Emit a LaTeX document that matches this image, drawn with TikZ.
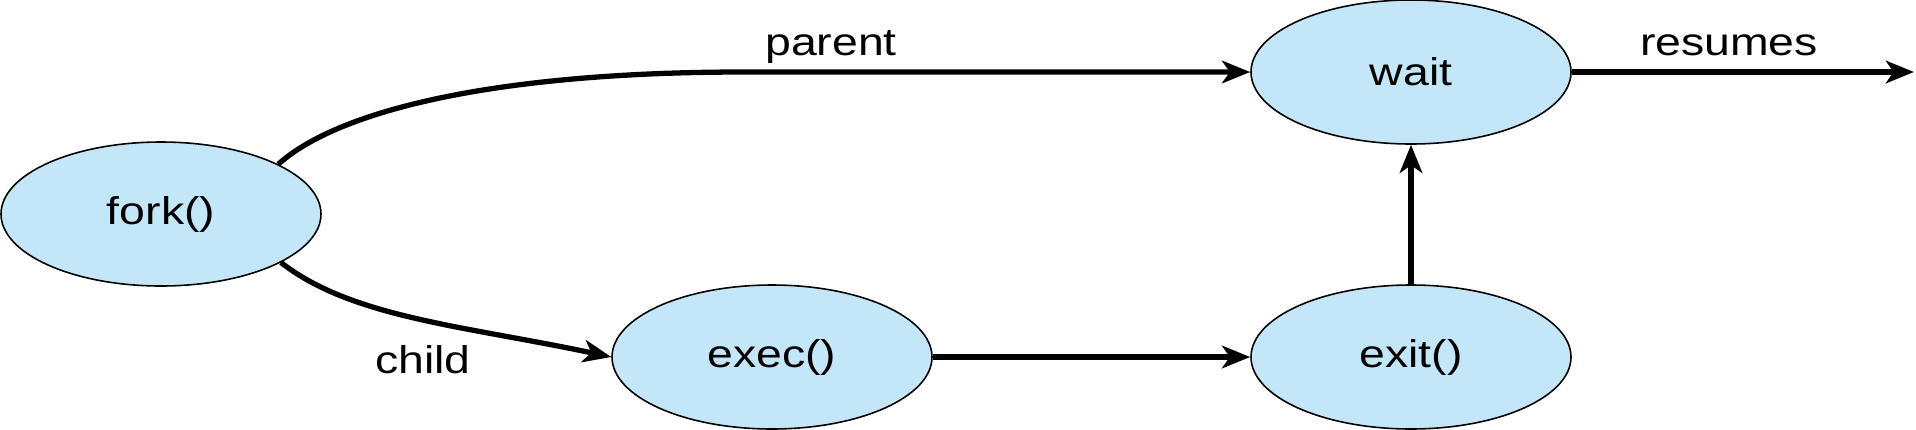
\documentclass[tikz,border=0pt]{standalone}
\usepackage{fontspec}
\setmainfont{Liberation Sans}[FakeStretch=1.2]
\usepackage{tikz}
\usetikzlibrary{shapes.geometric,arrows.meta}
\definecolor{procblue}{RGB}{195,230,248}

\begin{document}
\begin{tikzpicture}[font=\fontsize{11}{13}\selectfont,
    proc/.style={draw, ellipse, fill=procblue, line width=0.45pt, inner sep=0pt, minimum width=3.2cm, minimum height=1.44cm},
    conn/.style={-{Stealth[length=8pt, width=6.4pt, inset=2.2pt]}, line width=1.5pt}]
    \useasboundingbox (0,0) rectangle (19.16,4.29);

    \node[proc] (fork) at (1.61,2.15) {fork()};
    \node[proc] (exec) at (7.72,0.72) {exec()};
    \node[proc] (exit) at (14.11,0.72) {exit()};
    \node[proc] (wait) at (14.11,3.57) {wait};

    \coordinate (pbend) at (7.44,3.57);
    \coordinate (out) at (19.14,3.57);

    \node[anchor=base] (parentlbl) at (8.31,3.74) {parent};
    \node[anchor=base] (childlbl) at (4.23,0.56) {child};
    \node[anchor=base] (resumeslbl) at (17.29,3.74) {resumes};

    \draw[conn] (fork.23) .. controls +(42:0.8) and +(-2.5,0) .. (pbend) -- (wait);
    \draw[conn] (fork.-22) .. controls +(-38:0.9) and +(168:1.5) .. (exec.west);
    \draw[conn] (exec) -- (exit);
    \draw[conn] (exit) -- (wait);
    \draw[conn] (wait) -- (out);
\end{tikzpicture}
\end{document}
